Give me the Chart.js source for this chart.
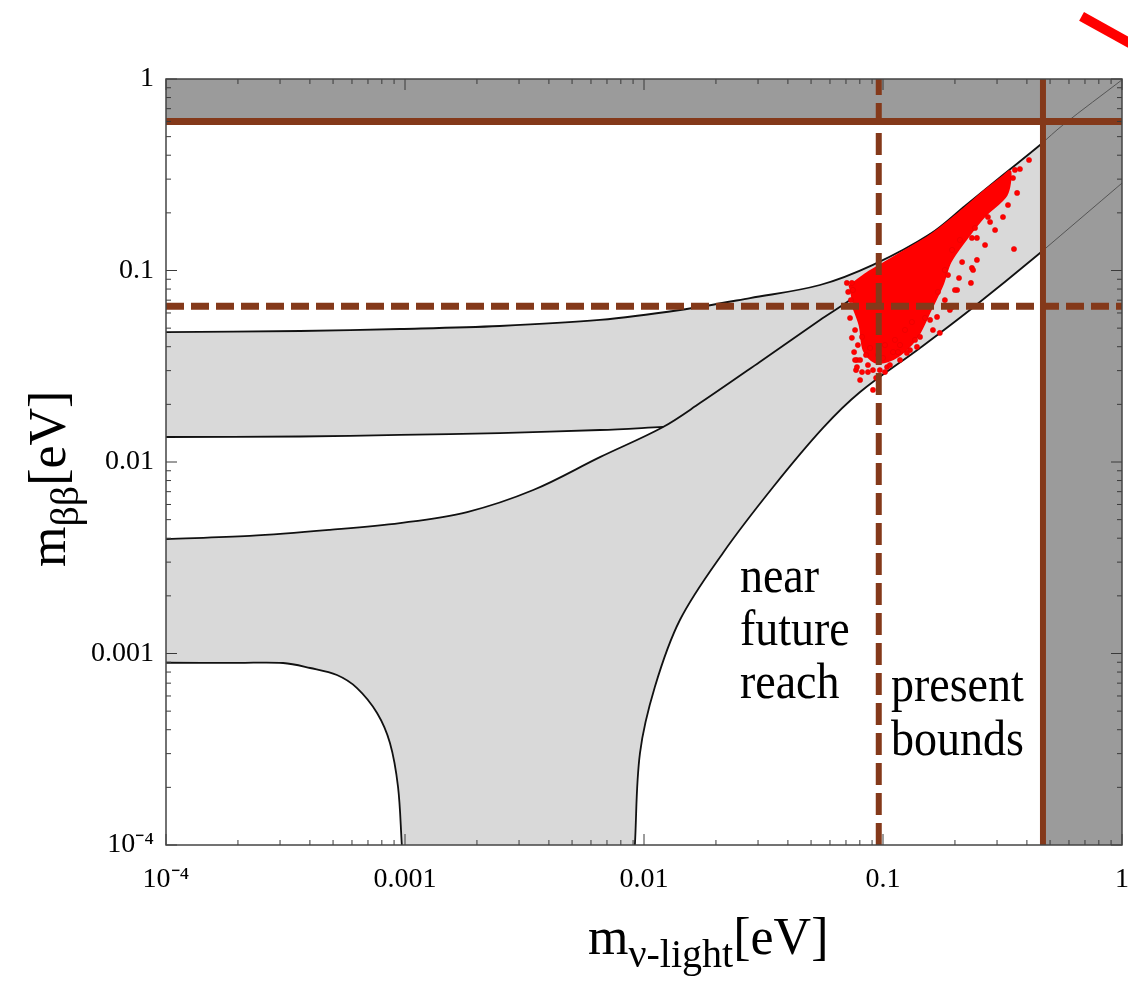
<!DOCTYPE html>
<html>
<head>
<meta charset="utf-8">
<script src="https://cdn.jsdelivr.net/npm/chart.js"></script>
<style>
    body { margin: 0; background: #fff; overflow: hidden; }
    #lienzo { position: relative; width: 1128px; height: 991px; }
    .titulo { position: absolute; font-family: "Liberation Serif", serif; font-size: 52px; line-height: 52px; white-space: nowrap; color: #000; }
    .titulo .sub { font-size: 40px; position: relative; top: 13px; }
    #tituloX { left: 588px; top: 911px; }
    #tituloY { left: 22px; top: 567px; transform-origin: 0 0; transform: rotate(-90deg); }
    #raya { position: absolute; left: 1084px; top: 12px; width: 80px; height: 10px; background: #f00; transform-origin: 0 0; transform: rotate(29deg); }
</style>
</head>
<body>
<div id="lienzo">
    <canvas id="grafico" width="1128" height="991"></canvas>
    <div class="titulo" id="tituloX">m<span class="sub">ν-light</span>[eV]</div>
    <div class="titulo" id="tituloY">m<span class="sub">ββ</span>[eV]</div>
    <div id="raya"></div>
</div>
<script>
// ejes: masa del neutrino mas ligero [eV] contra m_bb [eV], los dos logaritmicos
const ejeMin = 0.0001;
const ejeMax = 1;
const etiquetasDecada = { "-4": "10⁻⁴", "-3": "0.001", "-2": "0.01", "-1": "0.1", "0": "1" };

// jerarquia invertida, borde superior
const ihSupX = [0.0001, 0.000364, 0.000953, 0.00249, 0.00654, 0.01416, 0.0278, 0.0545, 0.0908, 0.1574, 0.2203, 0.3177, 0.454, 0.566, 1];
const ihSupY = [0.0477, 0.0483, 0.0495, 0.0513, 0.0552, 0.0622, 0.0718, 0.0840, 0.107, 0.155, 0.2173, 0.3153, 0.452, 0.575, 0.99];

// jerarquia invertida, borde inferior (hasta donde corta a la normal)
const ihInfX = [0.0001, 0.000364, 0.000953, 0.00249, 0.00654, 0.01202];
const ihInfY = [0.01351, 0.01359, 0.01384, 0.01416, 0.01469, 0.01524];

// jerarquia normal, borde superior
const nhSupX = [0.0001, 0.000224, 0.000485, 0.000953, 0.00182, 0.00344, 0.00654, 0.01202, 0.01714, 0.0305, 0.0545, 0.0728, 0.1178, 0.1574];
const nhSupY = [0.00396, 0.00411, 0.00442, 0.0048, 0.00548, 0.00714, 0.0106, 0.01524, 0.0203, 0.0333, 0.0552, 0.0702, 0.1107, 0.155];

// jerarquia normal, borde inferior izquierdo y derecho
const nhIzqX = [0.0001, 0.0002, 0.000309, 0.000401, 0.000519, 0.00063, 0.000764, 0.000865, 0.000935, 0.00097];
const nhIzqY = [0.000895, 0.000893, 0.000892, 0.00084, 0.000772, 0.00066, 0.000489, 0.000341, 0.000201, 0.0001];
const nhDerX = [0.00916, 0.00962, 0.0111, 0.01415, 0.0214, 0.0347, 0.0561, 0.0802, 0.1429, 0.231, 0.454, 1];
const nhDerY = [0.0001, 0.000302, 0.000668, 0.0015, 0.00335, 0.0074, 0.01506, 0.0232, 0.0394, 0.0622, 0.1234, 0.286];

// nube de puntos del modelo: contorno de la zona densa y puntos sueltos
const nubeX = [0.0721, 0.0841, 0.0970, 0.1236, 0.1574, 0.2163, 0.2673, 0.3177, 0.3396, 0.3273, 0.2673, 0.2203, 0.1905, 0.1766, 0.1574, 0.1400, 0.1236, 0.1069, 0.0927, 0.0834, 0.0802, 0.0748];
const nubeY = [0.0820, 0.0947, 0.1056, 0.1264, 0.1514, 0.2070, 0.2601, 0.3078, 0.3269, 0.2479, 0.1950, 0.1443, 0.1107, 0.0840, 0.0622, 0.0461, 0.0384, 0.0341, 0.0333, 0.0384, 0.0519, 0.0661];
const puntosX = [0.4083, 0.3741, 0.3499, 0.3640, 0.3177, 0.2748, 0.3532, 0.2472, 0.2355, 0.2472, 0.2355, 0.2080, 0.2333, 0.2042, 0.1945, 0.1683, 0.1429, 0.1297, 0.1178, 0.1040, 0.0908, 0.0771, 0.0778, 0.0908, 0.0817, 0.0741, 0.2382, 0.1905, 0.1729, 0.1618, 0.1387, 0.1259, 0.0802, 0.0778, 0.0706, 0.0748, 0.0728, 0.0764, 0.0785, 0.0849, 0.0883, 0.0953, 0.1019, 0.1102, 0.1178, 0.0817, 0.0865, 0.0970, 0.1069, 0.0764, 0.0741, 0.3565,
                 0.1236, 0.1321, 0.1500, 0.1815, 0.2000, 0.1871, 0.2143, 0.2673, 0.2944, 0.3334, 0.0936, 0.1019, 0.0802, 0.1122, 0.0734, 0.0715,
                 0.1945, 0.2099, 0.2427, 0.2806, 0.1815, 0.1698, 0.1574, 0.1362, 0.1156, 0.1000, 0.0865, 0.0757];
const puntosY = [0.3776, 0.3388, 0.3041, 0.2540, 0.1903, 0.1903, 0.1295, 0.1479, 0.1479, 0.1135, 0.1031, 0.0914, 0.0861, 0.0791, 0.0645, 0.0572, 0.0450, 0.0384, 0.0341, 0.0313, 0.0302, 0.0302, 0.0341, 0.0238, 0.0450, 0.0861, 0.1006, 0.0622, 0.0472, 0.0489, 0.0399, 0.0371, 0.0341, 0.0313, 0.0861, 0.0791, 0.0565, 0.0489, 0.0408, 0.0362, 0.0394, 0.0362, 0.0408, 0.0375, 0.0408, 0.0295, 0.0321, 0.0302, 0.0321, 0.0341, 0.0445, 0.3350,
                 0.0489, 0.0538, 0.0565, 0.0701, 0.0791, 0.0947, 0.1107, 0.1359, 0.1627, 0.2198, 0.0275, 0.0295, 0.0268, 0.0434, 0.0701, 0.0773,
                 0.1280, 0.1443, 0.1667, 0.1792, 0.1006, 0.0773, 0.0552, 0.0434, 0.0375, 0.0349, 0.0295, 0.0375];

// cotas experimentales
const cotaMbb = 0.6;        // cota actual sobre m_bb
const cotaMasa = 0.467;     // cota actual sobre la masa
const futuroMbb = 0.065;    // alcance proximo sobre m_bb
const futuroMasa = 0.096;   // alcance proximo sobre la masa

const notas = [
    { texto: "near", x: 0.0252, y: 0.002094 },
    { texto: "future", x: 0.0252, y: 0.001107 },
    { texto: "reach", x: 0.0252, y: 0.000586 },
    { texto: "present", x: 0.1079, y: 0.000565 },
    { texto: "bounds", x: 0.1079, y: 0.000295 }
];

const grisClaro = "#d9d9d9";
const grisOscuro = "#9b9b9b";
const marron = "#84391a";

addEventListener("DOMContentLoaded", function(){
    generarGrafico();
});

function puntos(xs, ys) {
    return xs.map((x, i) => ({ x: x, y: ys[i] }));
}

function invertir(lista) {
    return [...lista].reverse();
}

function ultimo(lista) {
    return lista[lista.length - 1];
}

function esDecada(v) {
    const l = Math.log10(v);
    return Math.abs(l - Math.round(l)) < 1e-6;
}

function etiqueta(v) {
    if (!esDecada(v)) return "";
    return etiquetasDecada[String(Math.round(Math.log10(v)))] || "";
}

const marcoYTextos = {
    id: "marcoYTextos",
    afterDatasetsDraw(chart) {
        const ctx = chart.ctx;
        const a = chart.chartArea;
        const ex = chart.scales.x;
        const ey = chart.scales.y;
        ctx.save();
        ctx.strokeStyle = "#3a3a3a";
        ctx.lineWidth = 1;
        for (let e = -4; e <= 0; e++) {
            for (let k = 1; k <= 9; k++) {
                const v = k * Math.pow(10, e);
                if (v > 1.0001) break;
                const largo = k === 1 ? 11 : 5;
                const px = ex.getPixelForValue(v);
                const py = ey.getPixelForValue(v);
                ctx.beginPath();
                ctx.moveTo(px, a.bottom); ctx.lineTo(px, a.bottom - largo);
                ctx.moveTo(px, a.top); ctx.lineTo(px, a.top + largo);
                ctx.moveTo(a.left, py); ctx.lineTo(a.left + largo, py);
                ctx.moveTo(a.right, py); ctx.lineTo(a.right - largo, py);
                ctx.stroke();
            }
        }
        ctx.strokeStyle = "#444";
        ctx.lineWidth = 1.5;
        ctx.strokeRect(a.left, a.top, a.right - a.left, a.bottom - a.top);

        ctx.fillStyle = "#000";
        ctx.font = '46px "Liberation Serif"';
        ctx.textBaseline = "alphabetic";
        ctx.textAlign = "left";
        for (const n of notas) {
            ctx.save();
            ctx.translate(ex.getPixelForValue(n.x), ey.getPixelForValue(n.y));
            ctx.scale(1, 1.1);
            ctx.fillText(n.texto, 0, 0);
            ctx.restore();
        }
        ctx.restore();
    }
};

function generarGrafico() {

    // contornos cerrados; los puntos repetidos dejan las esquinas en punta
    const der = invertir(puntos(nhDerX, nhDerY));
    const izq = invertir(puntos(nhIzqX, nhIzqY));
    const banda = [...puntos(ihSupX, ihSupY), ...der, ultimo(der), izq[0], ...izq, ultimo(izq)];

    const inf = puntos(ihInfX, ihInfY);
    const sup = invertir(puntos(nhSupX, nhSupY).filter(p => p.x <= ultimo(ihInfX)));
    const cuna = [inf[0], ...inf, ...sup, ultimo(sup)];

    const franjaArriba = [
        { x: ejeMin, y: cotaMbb }, { x: ejeMax, y: cotaMbb }, { x: ejeMax, y: ejeMax }, { x: ejeMin, y: ejeMax }
    ];
    const franjaDerecha = [
        { x: cotaMasa, y: ejeMin }, { x: ejeMax, y: ejeMin }, { x: ejeMax, y: cotaMbb }, { x: cotaMasa, y: cotaMbb }
    ];

    const curva = (datos, orden) => ({
        data: datos, order: orden, borderColor: "#111", borderWidth: 1.8,
        pointRadius: 0, fill: false, tension: 0.35
    });
    const forma = (datos, color, orden, tension) => ({
        data: datos, order: orden, backgroundColor: color, borderColor: color, borderWidth: 0,
        pointRadius: 0, fill: "shape", tension: tension
    });
    const recta = (datos, ancho, trazo, orden) => ({
        data: datos, order: orden, borderColor: marron, borderWidth: ancho, borderDash: trazo,
        pointRadius: 0, fill: false, tension: 0, borderCapStyle: "butt"
    });

    new Chart("grafico", {
        type: "line",
        data: {
            datasets: [
                forma(banda, grisClaro, 100, 0.35),
                forma(cuna, "#ffffff", 99, 0.35),
                curva(puntos(ihSupX, ihSupY), 90),
                curva(puntos(ihInfX, ihInfY), 90),
                curva(puntos(nhSupX, nhSupY), 90),
                curva(puntos(nhIzqX, nhIzqY), 90),
                curva(puntos(nhDerX, nhDerY), 90),
                {
                    data: puntos(nubeX, nubeY), order: 80, backgroundColor: "#ff0000", borderColor: "#ff0000",
                    borderWidth: 3, pointRadius: 0, fill: "shape", tension: 0.3
                },
                {
                    data: puntos(puntosX, puntosY), order: 79, showLine: false,
                    pointRadius: 2.6, pointBackgroundColor: "#ff0000", pointBorderColor: "#e00000", pointBorderWidth: 0.5
                },
                forma(franjaArriba, grisOscuro, 60, 0),
                forma(franjaDerecha, grisOscuro, 60, 0),
                {
                    data: puntos(ihSupX, ihSupY).filter(p => p.x >= 0.45), order: 50,
                    borderColor: "#555", borderWidth: 1, pointRadius: 0, fill: false, tension: 0.35
                },
                {
                    data: puntos(nhDerX, nhDerY).filter(p => p.x >= 0.45), order: 50,
                    borderColor: "#555", borderWidth: 1, pointRadius: 0, fill: false, tension: 0.35
                },
                recta([{ x: ejeMin, y: futuroMbb }, { x: ejeMax, y: futuroMbb }], 7, [18, 7], 20),
                recta([{ x: futuroMasa, y: ejeMin }, { x: futuroMasa, y: ejeMax }], 6, [22, 8], 20),
                recta([{ x: ejeMin, y: cotaMbb }, { x: ejeMax, y: cotaMbb }], 7, [], 10),
                recta([{ x: cotaMasa, y: ejeMin }, { x: cotaMasa, y: ejeMax }], 6, [], 10)
            ]
        },
        options: {
            responsive: false,
            devicePixelRatio: 1,
            animation: false,
            events: [],
            layout: { padding: { left: 0, top: 79, right: 6, bottom: 0 } },
            plugins: { legend: { display: false }, tooltip: { enabled: false } },
            scales: {
                x: {
                    type: "logarithmic", min: ejeMin, max: ejeMax,
                    grid: { display: false, drawTicks: false },
                    border: { display: false },
                    ticks: {
                        autoSkip: false, maxRotation: 0, padding: 18, color: "#000",
                        font: { family: "Liberation Serif", size: 28 },
                        callback: etiqueta
                    },
                    afterFit: function(escala) {
                        escala.height = 146;
                        escala.paddingLeft = 0;
                        escala.paddingRight = 0;
                    }
                },
                y: {
                    type: "logarithmic", min: ejeMin, max: ejeMax,
                    grid: { display: false, drawTicks: false },
                    border: { display: false },
                    ticks: {
                        autoSkip: false, padding: 12, color: "#000",
                        font: { family: "Liberation Serif", size: 28 },
                        callback: etiqueta
                    },
                    afterFit: function(escala) {
                        escala.width = 166;
                        escala.paddingTop = 0;
                        escala.paddingBottom = 0;
                    }
                }
            }
        },
        plugins: [marcoYTextos]
    });
}
</script>
</body>
</html>
